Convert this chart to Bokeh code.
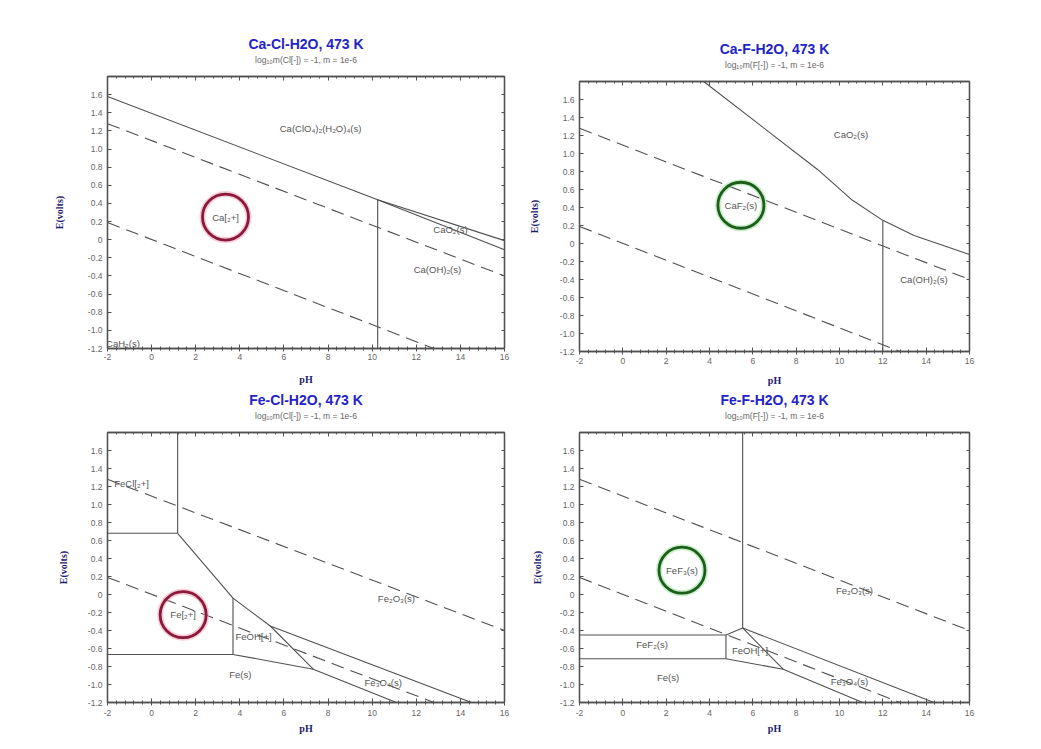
from bokeh.plotting import figure
from bokeh.layouts import column, row
from bokeh.models import LinearAxis, FixedTicker, Range1d, Title
from bokeh.core.properties import value
from bokeh.embed import file_html
from bokeh.resources import INLINE

# ---------------- data ----------------
x_ticks = [-2, 0, 2, 4, 6, 8, 10, 12, 14, 16]
x_tick_labels = ["-2", "0", "2", "4", "6", "8", "10", "12", "14", "16"]
y_ticks = [-1.2, -1.0, -0.8, -0.6, -0.4, -0.2, 0.0, 0.2, 0.4, 0.6, 0.8, 1.0, 1.2, 1.4, 1.6]
y_tick_labels = ["-1.2", "-1.0", "-0.8", "-0.6", "-0.4", "-0.2", "0", "0.2", "0.4",
                 "0.6", "0.8", "1.0", "1.2", "1.4", "1.6"]

titles = ["Ca-Cl-H2O, 473 K", "Ca-F-H2O, 473 K", "Fe-Cl-H2O, 473 K", "Fe-F-H2O, 473 K"]
subtitles = ["log\u2081\u2080m(Cl[-]) = -1, m = 1e-6", "log\u2081\u2080m(F[-]) = -1, m = 1e-6",
             "log\u2081\u2080m(Cl[-]) = -1, m = 1e-6", "log\u2081\u2080m(F[-]) = -1, m = 1e-6"]

# water stability limits (dashed)
water_xs = [[-2, 16], [-2, 12.8]]
water_ys = [[1.28, -0.40], [0.19, -1.2]]

# Ca-Cl-H2O boundaries
cacl_xs = [[-2, 10.25, 16], [10.25, 16], [10.25, 10.25]]
cacl_ys = [[1.58, 0.44, -0.01], [0.44, -0.11], [0.44, -1.2]]
cacl_label_x = [7.66, 3.35, 13.55, 12.96, -1.3]
cacl_label_y = [1.225, 0.25, 0.11, -0.33, -1.15]
cacl_label_text = ["Ca(ClO\u2084)\u2082(H\u2082O)\u2084(s)", "Ca[\u2082+]", "CaO\u2082(s)",
                   "Ca(OH)\u2082(s)", "CaH\u2082(s)"]
cacl_circle = ([3.35], [0.25])

# Ca-F-H2O boundaries
caf_xs = [[3.73, 9.0, 10.6, 12.0, 13.44, 16], [12.0, 12.0]]
caf_ys = [[1.8, 0.82, 0.48, 0.257, 0.09, -0.123], [0.257, -1.2]]
caf_label_x = [10.53, 5.45, 13.9]
caf_label_y = [1.21, 0.425, -0.395]
caf_label_text = ["CaO\u2082(s)", "CaF\u2082(s)", "Ca(OH)\u2082(s)"]
caf_circle = ([5.45], [0.425])

# Fe-Cl-H2O boundaries
fecl_xs = [[1.18, 1.18], [-2, 1.18], [1.18, 3.69, 5.38, 7.33], [5.38, 14.5],
           [3.69, 3.69], [-2, 3.69], [3.69, 7.33, 11.1]]
fecl_ys = [[1.8, 0.68], [0.68, 0.68], [0.68, -0.04, -0.35, -0.83], [-0.35, -1.2],
           [-0.04, -0.666], [-0.666, -0.666], [-0.666, -0.83, -1.2]]
fecl_label_x = [-0.91, 1.43, 4.62, 4.02, 11.1, 10.5]
fecl_label_y = [1.23, -0.224, -0.47, -0.886, -0.04, -0.98]
fecl_label_text = ["FeCl[\u2082+]", "Fe[\u2082+]", "FeOH[+]", "Fe(s)", "Fe\u2082O\u2083(s)", "Fe\u2083O\u2084(s)"]
fecl_circle = ([1.43], [-0.224])

# Fe-F-H2O boundaries
fef_xs = [[5.53, 5.53], [-2, 4.76], [4.76, 5.53], [4.76, 4.76], [-2, 4.76],
          [4.76, 7.40, 11.07], [5.53, 7.40], [5.53, 14.36]]
fef_ys = [[1.8, -0.372], [-0.45, -0.45], [-0.45, -0.372], [-0.45, -0.714], [-0.714, -0.714],
          [-0.714, -0.83, -1.2], [-0.372, -0.83], [-0.372, -1.2]]
fef_label_x = [2.73, 1.35, 2.09, 5.87, 10.69, 10.46]
fef_label_y = [0.27, -0.55, -0.92, -0.62, 0.04, -0.97]
fef_label_text = ["FeF\u2083(s)", "FeF\u2082(s)", "Fe(s)", "FeOH[+]", "Fe\u2082O\u2083(s)", "Fe\u2083O\u2084(s)"]
fef_circle = ([2.73], [0.27])

# ---------------- styling ----------------
SANS = "Liberation Sans"
SERIF = "Liberation Serif"
LINE = "#505050"
TXT = "#555555"
TITLE_C = "#2323c8"
AXLAB_C = "#1c1c70"


def make_panel(w, h, bl, br, bt, bb, ystand, xstand, xlabstand, idx):
    p = figure(width=w, height=h, x_range=Range1d(-2, 16), y_range=Range1d(-1.2, 1.8),
               output_backend="svg", toolbar_location=None, title=None,
               min_border_left=bl, min_border_right=br, min_border_top=bt, min_border_bottom=bb,
               background_fill_color="white", border_fill_color="white")
    p.grid.visible = False
    p.outline_line_color = LINE
    p.outline_line_width = 1.3

    minor_x = [t / 10.0 for t in range(-20, 161, 4) if t % 20 != 0]
    xover = dict(zip(x_ticks, x_tick_labels))
    yover = dict(zip(y_ticks, y_tick_labels))

    xa = p.xaxis[0]
    xa.ticker = FixedTicker(ticks=x_ticks, minor_ticks=minor_x)
    xa.major_label_overrides = xover
    xa.axis_label = "pH"
    ya = p.yaxis[0]
    ya.ticker = FixedTicker(ticks=y_ticks)
    ya.major_label_overrides = yover
    ya.axis_label = "E(volts)"

    for ax in (xa, ya):
        ax.axis_line_color = LINE
        ax.axis_line_width = 1.3
        ax.major_tick_line_color = LINE
        ax.minor_tick_line_color = LINE
        ax.major_label_text_font = SANS
        ax.major_label_text_font_size = "8.5px"
        ax.major_label_text_color = "#666666"
        ax.axis_label_text_font = SERIF
        ax.axis_label_text_font_style = "bold"
        ax.axis_label_text_font_size = "10px"
        ax.axis_label_text_color = AXLAB_C
    xa.major_tick_in = 4
    xa.major_tick_out = 3
    xa.minor_tick_in = 2
    xa.minor_tick_out = 2
    xa.major_label_standoff = xstand
    xa.axis_label_standoff = xlabstand
    ya.major_tick_in = 4
    ya.major_tick_out = 0
    ya.minor_tick_line_color = None
    ya.major_label_standoff = 5
    ya.axis_label_standoff = ystand

    top = LinearAxis(ticker=FixedTicker(ticks=x_ticks, minor_ticks=minor_x),
                     major_label_text_font_size="0px", major_label_standoff=0,
                     major_tick_in=4, major_tick_out=0,
                     minor_tick_in=2, minor_tick_out=0, axis_line_color=LINE, axis_line_width=1.3,
                     major_tick_line_color=LINE, minor_tick_line_color=LINE)
    right = LinearAxis(ticker=FixedTicker(ticks=y_ticks),
                       major_label_text_font_size="0px", major_label_standoff=0,
                       major_tick_in=3, major_tick_out=0,
                       minor_tick_line_color=None, axis_line_color=LINE, axis_line_width=1.3,
                       major_tick_line_color=LINE)
    p.add_layout(top, "above")
    p.add_layout(right, "right")

    # spacer between the frame and the subtitle
    p.add_layout(Title(text=" ", text_font_size="1px", standoff=8), "above")
    p.add_layout(Title(text=subtitles[idx], align="center", text_font=SANS,
                       text_font_size="8.5px", text_font_style="normal", text_color="#666666",
                       standoff=1), "above")
    p.add_layout(Title(text=titles[idx], align="center", text_font=SANS,
                       text_font_size="14px", text_font_style="bold", text_color=TITLE_C,
                       standoff=2), "above")

    p.multi_line(xs=water_xs, ys=water_ys, line_color=LINE, line_width=1.1, line_dash="13 7")
    return p


def add_content(p, xs, ys, lx, ly, lt, circ, ring, halo):
    p.multi_line(xs=xs, ys=ys, line_color=LINE, line_width=1.1)
    p.text(x=lx, y=ly, text=lt, text_align="center", text_baseline="middle",
           text_font=value(SANS), text_font_size=value("9.5px"), text_color=TXT)
    p.scatter(x=circ[0], y=circ[1], marker="circle", size=46, fill_color=None,
              line_color=halo, line_width=6, line_alpha=0.55)
    p.scatter(x=circ[0], y=circ[1], marker="circle", size=46, fill_color=None,
              line_color=ring, line_width=2.8)


RED = "#8a1a3c"
RED_H = "#f0a0b8"
GRN = "#1d5e1d"
GRN_H = "#9be09b"

p1 = make_panel(525, 388, 107, 21, 76, 40, 20, 2, 11, 0)
add_content(p1, cacl_xs, cacl_ys, cacl_label_x, cacl_label_y, cacl_label_text, cacl_circle, RED, RED_H)

p2 = make_panel(511, 388, 52, 67, 81, 37, 17, 3, 8, 1)
add_content(p2, caf_xs, caf_ys, caf_label_x, caf_label_y, caf_label_text, caf_circle, GRN, GRN_H)

p3 = make_panel(525, 357, 107, 21, 44, 43, 16, 4, 4, 2)
add_content(p3, fecl_xs, fecl_ys, fecl_label_x, fecl_label_y, fecl_label_text, fecl_circle, RED, RED_H)

p4 = make_panel(511, 357, 52, 67, 44, 43, 14, 4, 4, 3)
add_content(p4, fef_xs, fef_ys, fef_label_x, fef_label_y, fef_label_text, fef_circle, GRN, GRN_H)

layout = row(column(p1, p3), column(p2, p4))
open("out.html", "w").write(file_html(layout, INLINE))
